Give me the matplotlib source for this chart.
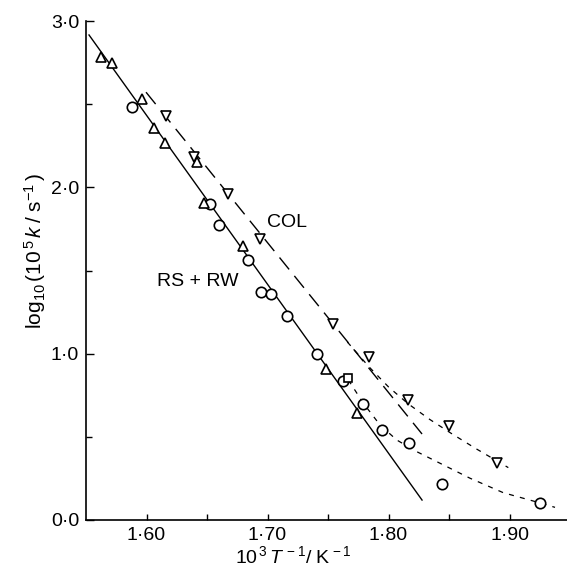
import matplotlib
matplotlib.use("Agg")
import matplotlib.pyplot as plt
from matplotlib.ticker import FixedLocator, FixedFormatter

plt.rcParams['font.family'] = ['Liberation Sans', 'DejaVu Sans']
plt.rcParams['mathtext.fontset'] = 'custom'
plt.rcParams['mathtext.rm'] = 'Liberation Sans'
plt.rcParams['mathtext.it'] = 'Liberation Sans:italic'

# data: x = 10^3/T (K^-1), y = log10(10^5 k / s^-1)
circle_x = [1.588, 1.6525, 1.660, 1.684, 1.695, 1.703, 1.716, 1.741, 1.762, 1.779, 1.7946, 1.817, 1.844, 1.925]
circle_y = [2.483, 1.900, 1.774, 1.563, 1.371, 1.359, 1.227, 0.998, 0.836, 0.698, 0.541, 0.463, 0.216, 0.102]

up_x = [1.5624, 1.5715, 1.596, 1.606, 1.615, 1.6415, 1.6475, 1.680, 1.748, 1.774]
up_y = [2.784, 2.748, 2.531, 2.357, 2.267, 2.155, 1.906, 1.648, 0.908, 0.643]

down_x = [1.616, 1.6395, 1.667, 1.694, 1.754, 1.784, 1.816, 1.850, 1.890]
down_y = [2.429, 2.181, 1.960, 1.690, 1.179, 0.980, 0.722, 0.565, 0.343]

square_x = [1.7668]
square_y = [0.852]

# fitted lines
rs_line_x = [1.5525, 1.8277]
rs_line_y = [2.916, 0.120]
col_line_x = [1.5996, 1.8277]
col_line_y = [2.572, 0.517]

# curved low-temperature branches
col_curve_x = [1.766, 1.784, 1.800, 1.816, 1.834, 1.852, 1.872, 1.899]
col_curve_y = [1.07, 0.92, 0.80, 0.70, 0.605, 0.52, 0.43, 0.315]
rs_curve_x = [1.7668, 1.7792, 1.793, 1.8068, 1.8233, 1.8426, 1.8674, 1.8949, 1.9246, 1.9376]
rs_curve_y = [0.842, 0.702, 0.571, 0.481, 0.411, 0.341, 0.251, 0.164, 0.104, 0.076]

x_ticks = [1.60, 1.70, 1.80, 1.90]
x_labels = ['1·60', '1·70', '1·80', '1·90']
y_ticks = [0.0, 1.0, 2.0, 3.0]
y_labels = ['0·0', '1·0', '2·0', '3·0']

fig = plt.figure(figsize=(5.67, 5.69), dpi=100)
ax = fig.add_axes([86/567, 49/569, 481/567, 499/569])

ax.plot(rs_line_x, rs_line_y, color='black', lw=1.0)
ax.plot(col_line_x, col_line_y, color='black', lw=1.0, dashes=(11, 6))
ax.plot(col_curve_x, col_curve_y, color='black', lw=0.9, dashes=(4, 5))
ax.plot(rs_curve_x, rs_curve_y, color='black', lw=0.9, dashes=(4, 5))

mk = dict(linestyle='none', mfc='white', mec='black', mew=1.2, ms=7.5, zorder=3)
ax.plot(circle_x, circle_y, marker='o', **mk)
ax.plot(up_x, up_y, marker='^', **mk)
ax.plot(down_x, down_y, marker='v', **mk)
ax.plot(square_x, square_y, marker='s', **dict(mk, ms=6))

ax.text(1.716, 1.79, 'COL', fontsize=14, ha='center', va='center')
ax.text(1.6426, 1.432, 'RS + RW', fontsize=14, ha='center', va='center')

ax.set_xlim(1.55, 1.9475)
ax.set_ylim(0.0, 3.0)

ax.xaxis.set_major_locator(FixedLocator(x_ticks))
ax.xaxis.set_major_formatter(FixedFormatter(x_labels))
ax.xaxis.set_minor_locator(FixedLocator([1.65, 1.75, 1.85]))
ax.yaxis.set_major_locator(FixedLocator(y_ticks))
ax.yaxis.set_major_formatter(FixedFormatter(y_labels))
ax.yaxis.set_minor_locator(FixedLocator([0.5, 1.5, 2.5]))

ax.tick_params(axis='both', which='both', direction='in', labelsize=14, width=1.0)
ax.tick_params(axis='y', which='major', length=6, pad=5)
ax.tick_params(axis='y', which='minor', length=4)
ax.tick_params(axis='x', which='both', length=4, pad=5)

for s in ['top', 'right']:
    ax.spines[s].set_visible(False)
for s in ['left', 'bottom']:
    ax.spines[s].set_linewidth(1.2)

ax.text(-0.106, 0.54, r'$\mathrm{log_{10}\,(10^{\,5}}\,k\;\mathrm{/\;s^{-1}\,)}$',
        transform=ax.transAxes, rotation=90, fontsize=15, ha='center', va='center')
ax.text(0.43, -0.072, r'$\mathrm{10^{\,3}}\,T^{\,-1}\mathrm{/\;K^{\,-1}}$',
        transform=ax.transAxes, fontsize=14, ha='center', va='center')

fig.savefig('out.png', dpi=100)
